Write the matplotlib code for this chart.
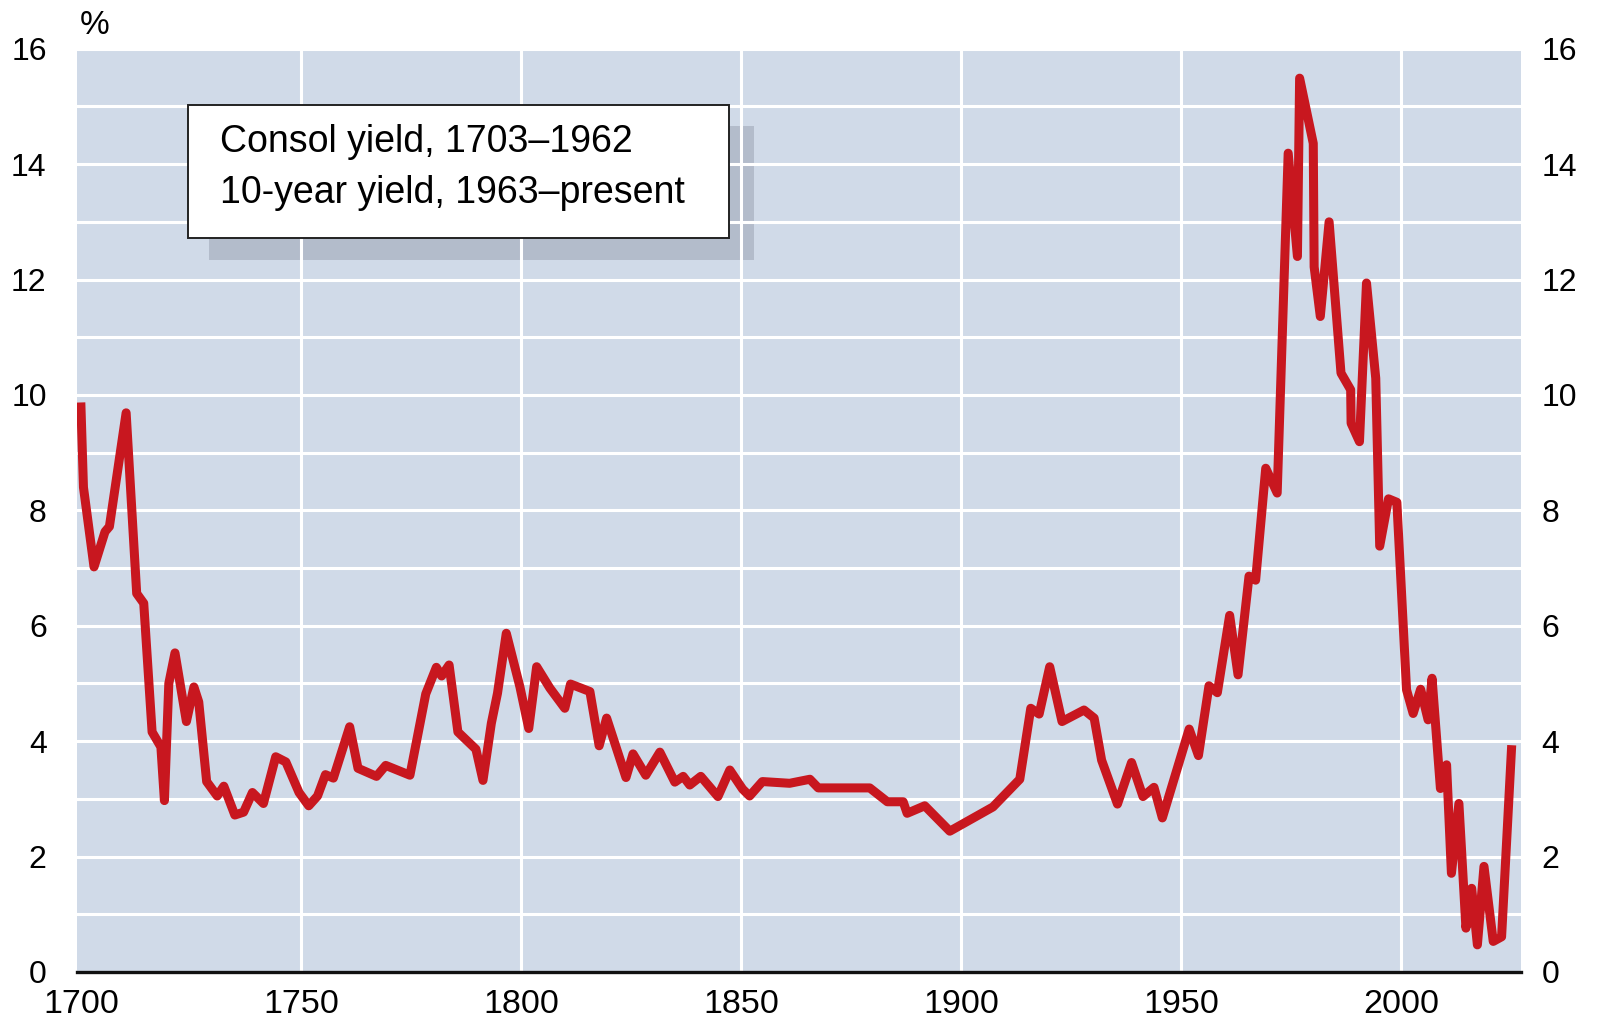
import numpy as np
import matplotlib
matplotlib.use('Agg')
import matplotlib.pyplot as plt
from matplotlib.patches import Rectangle
from matplotlib.transforms import offset_copy

plt.rcParams['font.family'] = ['Liberation Sans', 'DejaVu Sans']

# consol yield to 1962, 10-year gilt yield after
years = [1700, 1700.6, 1703, 1705.5, 1706.5, 1710.3, 1712.7, 1714.3, 1716.2, 1718.2,
         1719, 1720, 1721.4, 1724, 1725.7, 1726.8, 1728.6, 1731, 1732.5, 1735,
         1737, 1739, 1741.5, 1744.3, 1746.6, 1749.6, 1751.8, 1753.8, 1755.6, 1757.4,
         1761.1, 1763, 1767.2, 1769.3, 1774.8, 1778.4, 1780.8, 1782, 1783.7, 1785.7,
         1789.8, 1791.4, 1793.3, 1794.7, 1796.7, 1799.8, 1801.8, 1803.6, 1806.6, 1810,
         1811.3, 1815.7, 1817.8, 1819.5, 1823.9, 1825.5, 1828.4, 1831.6, 1835, 1836.9,
         1838.4, 1840.9, 1844.8, 1847.5, 1850.4, 1852, 1854.9, 1861.1, 1865.7, 1867.6,
         1879.3, 1883.3, 1886.9, 1887.8, 1891.8, 1897.5, 1907.3, 1913.4, 1915.9, 1917.8,
         1920.2, 1923, 1928, 1930.3, 1932, 1935.6, 1938.8, 1941.4, 1943.9, 1945.8,
         1951.9, 1954, 1956.4, 1958.3, 1961.1, 1963, 1965.5, 1967, 1969.3, 1971.9,
         1974.4, 1976.5, 1977, 1980.1, 1980.3, 1981.7, 1983.7, 1986.4, 1988.6, 1988.7,
         1990.6, 1992.2, 1994.3, 1995.2, 1997.2, 1999.1, 2001.3, 2002.8, 2004.5, 2006.2,
         2007.1, 2009, 2010.4, 2011.5, 2013.2, 2014.8, 2016.1, 2017.4, 2018.9, 2021,
         2022.9, 2025.2]
yields = [9.87, 8.4, 7.02, 7.63, 7.72, 9.69, 6.56, 6.39, 4.16, 3.9,
          2.97, 5.0, 5.53, 4.34, 4.94, 4.68, 3.3, 3.05, 3.22, 2.72,
          2.77, 3.11, 2.92, 3.73, 3.64, 3.11, 2.88, 3.05, 3.42, 3.36,
          4.25, 3.53, 3.39, 3.58, 3.41, 4.82, 5.28, 5.13, 5.32, 4.16,
          3.86, 3.32, 4.31, 4.83, 5.87, 4.94, 4.22, 5.29, 4.92, 4.57,
          4.99, 4.86, 3.92, 4.4, 3.37, 3.78, 3.41, 3.81, 3.29, 3.39,
          3.24, 3.39, 3.04, 3.5, 3.17, 3.05, 3.3, 3.27, 3.34, 3.19,
          3.19, 2.95, 2.95, 2.75, 2.88, 2.44, 2.86, 3.34, 4.57, 4.47,
          5.29, 4.34, 4.54, 4.4, 3.67, 2.91, 3.63, 3.04, 3.2, 2.67,
          4.21, 3.75, 4.96, 4.84, 6.18, 5.15, 6.86, 6.79, 8.73, 8.30,
          14.19, 12.4, 15.49, 14.36, 12.22, 11.36, 13.0, 10.38, 10.09, 9.51,
          9.19, 11.94, 10.29, 7.38, 8.2, 8.14, 4.89, 4.48, 4.9, 4.37,
          5.09, 3.18, 3.59, 1.71, 2.92, 0.76, 1.45, 0.47, 1.83, 0.53,
          0.61, 3.93]

x_ticks = [1700, 1750, 1800, 1850, 1900, 1950, 2000]
y_ticks = [0, 2, 4, 6, 8, 10, 12, 14, 16]
legend_lines = ['Consol yield, 1703\u20131962', '10-year yield, 1963\u2013present']

bg = '#d0dae8'
red = '#c8171f'

fig = plt.figure(figsize=(15.97, 10.24), dpi=100)
ax = fig.add_axes([0.0484, 0.0508, 0.9037, 0.9016])
ax.set_facecolor(bg)
ax.set_axisbelow(True)

ax.plot(years, yields, color=red, lw=6.5, solid_joinstyle='round',
        solid_capstyle='butt', zorder=2)

ax.set_xlim(1699.2, 2027.2)
ax.set_ylim(0, 16)
ax.set_xticks(x_ticks)
ax.set_yticks(y_ticks)
ax.set_yticks(np.arange(1, 16, 2), minor=True)
ax.grid(True, which='both', color='white', lw=2.2)
ax.get_xgridlines()[0].set_visible(False)

for s in ['top', 'left', 'right']:
    ax.spines[s].set_visible(False)
ax.spines['bottom'].set_linewidth(2.4)
ax.spines['bottom'].set_color('#111111')
ax.spines['bottom'].set_zorder(3)

ax.tick_params(axis='y', which='both', length=0, labelright=True)
ax.tick_params(axis='y', which='major', labelsize=23, pad=22)
ax.tick_params(axis='x', length=0, labelsize=24.5, pad=12)

# right-hand labels sit closer to the plot
for t in ax.yaxis.get_major_ticks():
    t.label2.set_transform(offset_copy(ax.get_yaxis_transform(which='tick2'),
                                       fig=fig, x=15, y=0, units='points'))
    t.label2.set_horizontalalignment('left')

fig.text(95 / 1597, 1 - 25 / 1024, '%', fontsize=24, ha='center', va='center')

# legend box with drop shadow
ax.add_patch(Rectangle((0.0915, 0.7712), 0.4687 - 0.0915, 0.9164 - 0.7712,
                       transform=ax.transAxes, facecolor='#b3bccb', edgecolor='none', zorder=0.2))
ax.add_patch(Rectangle((0.0769, 0.7947), 0.4517 - 0.0769, 0.9391 - 0.7947,
                       transform=ax.transAxes, facecolor='white', edgecolor='#222222', lw=1.4, zorder=4))
ax.text(0.0989, 0.8885, legend_lines[0], transform=ax.transAxes, fontsize=27, va='baseline', zorder=5)
ax.text(0.0989, 0.833, legend_lines[1], transform=ax.transAxes, fontsize=27, va='baseline', zorder=5)

fig.savefig('out.png', dpi=100, facecolor='white')
